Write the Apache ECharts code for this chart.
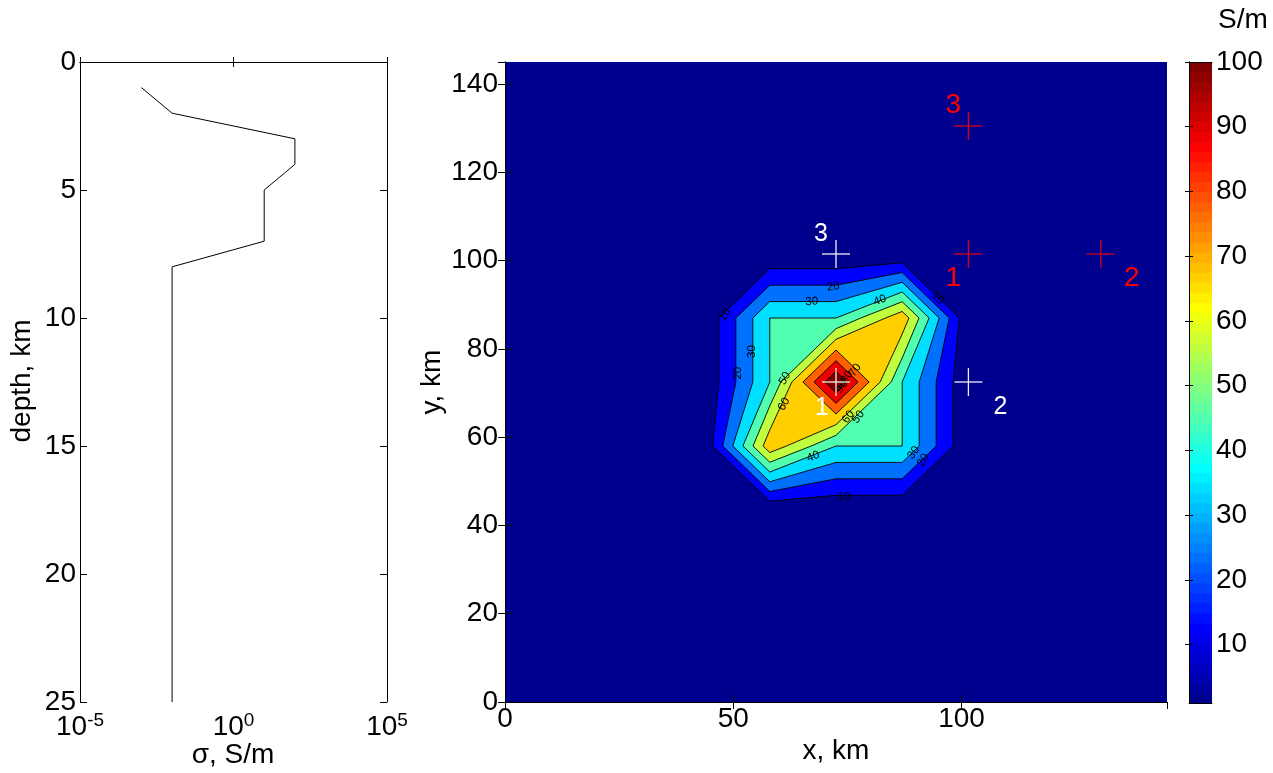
<!DOCTYPE html>
<html>
<head>
<meta charset="utf-8">
<script src="https://cdn.jsdelivr.net/npm/echarts@6/dist/echarts.min.js"></script>
<style>
  html, body { margin: 0; padding: 0; background: #ffffff; }
  #chart { width: 1273px; height: 773px; }
</style>
</head>
<body>
<div id="chart"></div>
<script>
// ---- 1-D layered conductivity profile ----
const profileDepthKm = [1, 2, 3, 4, 5, 7, 8, 25];
const profileSigma   = [1e-3, 1e-2, 1e2, 1e2, 1e1, 1e1, 1e-2, 1e-2];
const sigmaTicks = [1e-5, 1, 1e5];

// ---- plan-view conductivity (S/m) on grid nodes, rows from y = 0 km upward ----
const nodeKm = [0, 14.5, 29, 43.5, 58, 72.5, 87, 101.5, 116, 130.5, 145];
const sigmaRow0  = [1, 1, 1, 1, 1,    1,   1,    1, 1, 1, 1];
const sigmaRow1  = [1, 1, 1, 1, 1,    1,   1,    1, 1, 1, 1];
const sigmaRow2  = [1, 1, 1, 1, 1,    1,   1,    1, 1, 1, 1];
const sigmaRow3  = [1, 1, 1, 1, 1,    1,   1,    1, 1, 1, 1];
const sigmaRow4  = [1, 1, 1, 1, 66.7, 40,  40,   1, 1, 1, 1];
const sigmaRow5  = [1, 1, 1, 1, 40,   100, 40,   1, 1, 1, 1];
const sigmaRow6  = [1, 1, 1, 1, 40,   40,  66.7, 1, 1, 1, 1];
const sigmaRow7  = [1, 1, 1, 1, 1,    1,   1,    1, 1, 1, 1];
const sigmaRow8  = [1, 1, 1, 1, 1,    1,   1,    1, 1, 1, 1];
const sigmaRow9  = [1, 1, 1, 1, 1,    1,   1,    1, 1, 1, 1];
const sigmaRow10 = [1, 1, 1, 1, 1,    1,   1,    1, 1, 1, 1];
const sigmaRows = [sigmaRow0, sigmaRow1, sigmaRow2, sigmaRow3, sigmaRow4, sigmaRow5,
                   sigmaRow6, sigmaRow7, sigmaRow8, sigmaRow9, sigmaRow10];
const contourLevels = [10, 20, 30, 40, 50, 60, 70, 80, 90];

// contour labels: text, position (km) and reading angle (deg, counter-clockwise)
const contourLabelText  = ['20', '30', '40', '10', '10', '30', '20', '50', '60', '70', '80', '90', '60', '50', '40', '30', '20', '10'];
const contourLabelX     = [71.9, 67.2, 82.1, 94.8, 48.2, 54.0, 51.1, 61.3, 61.1, 76.7, 74.9, 73.8, 75.2, 77.4, 67.5, 89.5, 91.6, 74.3];
const contourLabelY     = [94.1, 90.7, 91.0, 91.5, 87.7, 79.4, 74.5, 73.3, 67.5, 75.2, 73.6, 71.4, 64.6, 64.6, 55.6, 56.5, 54.8, 46.5];
const contourLabelAngle = [5, 3, 20, -45, 55, 90, 90, 60, 60, 55, 55, 55, 55, 55, 20, 55, 60, 0];

// receiver sites
const whiteSiteX = [72.5, 101.5, 72.5];
const whiteSiteY = [72.5, 72.5, 101.5];
const whiteSiteName = ['1', '2', '3'];
const redSiteX = [101.5, 130.5, 101.5];
const redSiteY = [101.5, 101.5, 130.5];
const redSiteName = ['1', '2', '3'];

// colour bar
const colorbarMin = 1;
const colorbarMax = 100;
const colorbarTicks = [10, 20, 30, 40, 50, 60, 70, 80, 90, 100];

// ---------------------------------------------------------------
const FONT = "'Liberation Sans', Arial, Helvetica, sans-serif";
const TICK_FS = 28;

// MATLAB-style 64-entry jet colormap, row n = 1..64
function jetRow(n) {
  const r = n <= 24 ? 0 : n <= 40 ? (n - 24) / 16 : n <= 56 ? 1 : 1 - (n - 56) / 16;
  const g = n <= 8 ? 0 : n <= 24 ? (n - 8) / 16 : n <= 40 ? 1 : n <= 56 ? 1 - (n - 40) / 16 : 0;
  const b = n <= 8 ? 0.5 + n / 16 : n <= 24 ? 1 : n <= 40 ? 1 - (n - 24) / 16 : 0;
  return 'rgb(' + Math.round(r * 255) + ',' + Math.round(g * 255) + ',' + Math.round(b * 255) + ')';
}
const bandColors = [];
for (let k = 0; k <= contourLevels.length; k++) {
  bandColors.push(jetRow(1 + Math.round(k * 63 / contourLevels.length)));
}

// marching squares: polygons of {sigma >= L} inside cell (i, j), corners counter-clockwise
function cellPolygons(i, j, L) {
  const xs = [nodeKm[i], nodeKm[i + 1], nodeKm[i + 1], nodeKm[i]];
  const ys = [nodeKm[j], nodeKm[j], nodeKm[j + 1], nodeKm[j + 1]];
  const v = [sigmaRows[j][i], sigmaRows[j][i + 1], sigmaRows[j + 1][i + 1], sigmaRows[j + 1][i]];
  const up = v.map(a => a >= L);
  const nUp = up.filter(Boolean).length;
  if (nUp === 0) return [];
  const corner = c => ({ x: xs[c], y: ys[c], cross: false });
  const cross = (a, b) => {
    const t = (L - v[a]) / (v[b] - v[a]);
    return { x: xs[a] + t * (xs[b] - xs[a]), y: ys[a] + t * (ys[b] - ys[a]), cross: true };
  };
  const saddle = nUp === 2 && up[0] === up[2];
  if (saddle && (v[0] + v[1] + v[2] + v[3]) / 4 < L) {
    return [0, 1, 2, 3].filter(c => up[c]).map(c => {
      const p = (c + 3) % 4, n = (c + 1) % 4;
      return [cross(p, c), corner(c), cross(c, n)];
    });
  }
  const poly = [];
  for (let a = 0; a < 4; a++) {
    const b = (a + 1) % 4;
    if (up[a]) poly.push(corner(a));
    if (up[a] !== up[b]) poly.push(cross(a, b));
  }
  return [poly];
}

function levelGeometry(L, api) {
  let fill = '', line = '';
  const fmt = p => { const q = api.coord([p.x, p.y]); return q[0].toFixed(2) + ' ' + q[1].toFixed(2); };
  for (let j = 0; j < nodeKm.length - 1; j++) {
    for (let i = 0; i < nodeKm.length - 1; i++) {
      const polys = cellPolygons(i, j, L);
      polys.forEach(poly => {
        fill += 'M' + poly.map(fmt).join('L') + 'Z';
        for (let k = 0; k < poly.length; k++) {
          const a = poly[k], b = poly[(k + 1) % poly.length];
          if (a.cross && b.cross) line += 'M' + fmt(a) + 'L' + fmt(b);
        }
      });
    }
  }
  return { fill, line };
}

const bandData = bandColors.map((c, k) => [k, k]);
const lineData = contourLevels.map((L, k) => [k, k]);

function renderBand(params, api) {
  const k = params.dataIndex;
  let d;
  if (k === 0) {
    const n = nodeKm.length - 1;
    const a = api.coord([nodeKm[0], nodeKm[0]]), b = api.coord([nodeKm[n], nodeKm[n]]);
    d = 'M' + a[0] + ' ' + a[1] + 'L' + b[0] + ' ' + a[1] + 'L' + b[0] + ' ' + b[1] + 'L' + a[0] + ' ' + b[1] + 'Z';
  } else {
    d = levelGeometry(contourLevels[k - 1], api).fill;
  }
  if (!d) return null;
  return { type: 'path', shape: { pathData: d }, style: { fill: bandColors[k], stroke: null } };
}

function renderContourLine(params, api) {
  const d = levelGeometry(contourLevels[params.dataIndex], api).line;
  if (!d) return null;
  return { type: 'path', shape: { pathData: d }, style: { fill: null, stroke: '#000', lineWidth: 0.9 } };
}

const labelData = contourLabelText.map((t, k) => [contourLabelX[k], contourLabelY[k]]);
function renderContourLabel(params, api) {
  const k = params.dataIndex;
  const p = api.coord([api.value(0), api.value(1)]);
  return {
    type: 'text', x: p[0], y: p[1], rotation: contourLabelAngle[k] * Math.PI / 180,
    style: { text: contourLabelText[k], fontSize: 11.5, fontFamily: FONT, fill: '#000', align: 'center', verticalAlign: 'middle' }
  };
}

const whiteLabelOffsetPx = [[-14, 26], [32, 25], [-15, -20]];
const redLabelOffsetPx = [[-15, 24], [31, 24], [-15, -21]];
function siteRenderer(names, offsets, crossColor, textColor, fontSize) {
  return function (params, api) {
    const k = params.dataIndex;
    const p = api.coord([api.value(0), api.value(1)]);
    const h = 14;
    return {
      type: 'group',
      children: [
        { type: 'line', shape: { x1: p[0] - h, y1: p[1], x2: p[0] + h, y2: p[1] }, style: { stroke: crossColor, lineWidth: 1.3 } },
        { type: 'line', shape: { x1: p[0], y1: p[1] - h, x2: p[0], y2: p[1] + h }, style: { stroke: crossColor, lineWidth: 1.3 } },
        { type: 'text', x: p[0] + offsets[k][0], y: p[1] + offsets[k][1],
          style: { text: names[k], fontSize: fontSize, fontFamily: FONT, fill: textColor, align: 'center', verticalAlign: 'middle' } }
      ]
    };
  };
}

const colorbarData = [];
for (let k = 0; k < 64; k++) {
  colorbarData.push([colorbarMin + k * (colorbarMax - colorbarMin) / 64, colorbarMin + (k + 1) * (colorbarMax - colorbarMin) / 64]);
}
function renderColorbar(params, api) {
  const p0 = api.coord([0, api.value(0)]);
  const p1 = api.coord([1, api.value(1)]);
  return {
    type: 'rect',
    shape: { x: p0[0], y: p1[1], width: p1[0] - p0[0], height: p0[1] - p1[1] + 0.6 },
    style: { fill: jetRow(params.dataIndex + 1) }
  };
}

// ---------------------------------------------------------------
const axisBlack = { lineStyle: { color: '#000', width: 1 } };
const tickIn = len => ({ show: true, inside: true, length: len, lineStyle: { color: '#000', width: 1 } });
const label = (margin, extra) => Object.assign({ color: '#000', fontSize: TICK_FS, fontFamily: FONT, margin: margin }, extra || {});
const noSplit = { show: false };

const sigmaLabel = {
  customValues: sigmaTicks,
  formatter: v => '{b|10}{s|' + Math.round(Math.log10(v)) + '}',
  rich: {
    b: { fontSize: TICK_FS, fontFamily: FONT, color: '#000', lineHeight: 30, verticalAlign: 'bottom' },
    s: { fontSize: 19, fontFamily: FONT, color: '#000', lineHeight: 14, verticalAlign: 'top' }
  }
};

const option = {
  animation: false,
  backgroundColor: '#ffffff',
  grid: [
    { left: 80, top: 62, width: 307, height: 640, show: false },
    { left: 505, top: 62, width: 662, height: 640, show: false },
    { left: 1189, top: 62, width: 23, height: 641, show: false }
  ],
  xAxis: [
    { type: 'log', gridIndex: 0, min: 1e-5, max: 1e5, position: 'bottom', z: 10,
      axisLine: axisBlack, axisTick: Object.assign(tickIn(5), { customValues: sigmaTicks }),
      axisLabel: label(9, sigmaLabel), splitLine: noSplit },
    { type: 'log', gridIndex: 0, min: 1e-5, max: 1e5, position: 'top', z: 10,
      axisLine: axisBlack, axisTick: Object.assign(tickIn(5), { customValues: sigmaTicks }),
      axisLabel: { show: false }, splitLine: noSplit },
    { type: 'value', gridIndex: 1, min: 0, max: 145, interval: 50, position: 'bottom', z: 10,
      axisLine: axisBlack, axisTick: tickIn(7), axisLabel: label(3, { showMaxLabel: false }), splitLine: noSplit },
    { type: 'value', gridIndex: 1, min: 0, max: 145, interval: 50, position: 'top', z: 10,
      axisLine: axisBlack, axisTick: tickIn(7), axisLabel: { show: false }, splitLine: noSplit },
    { type: 'value', gridIndex: 2, min: 0, max: 1, position: 'bottom', z: 10,
      axisLine: axisBlack, axisTick: { show: false }, axisLabel: { show: false }, splitLine: noSplit },
    { type: 'value', gridIndex: 2, min: 0, max: 1, position: 'top', z: 10,
      axisLine: axisBlack, axisTick: { show: false }, axisLabel: { show: false }, splitLine: noSplit }
  ],
  yAxis: [
    { type: 'value', gridIndex: 0, min: 0, max: 25, interval: 5, inverse: true, position: 'left', z: 10,
      axisLine: axisBlack, axisTick: tickIn(7), axisLabel: label(4), splitLine: noSplit },
    { type: 'value', gridIndex: 0, min: 0, max: 25, interval: 5, inverse: true, position: 'right', z: 10,
      axisLine: axisBlack, axisTick: tickIn(7), axisLabel: { show: false }, splitLine: noSplit },
    { type: 'value', gridIndex: 1, min: 0, max: 145, interval: 20, position: 'left', z: 10,
      axisLine: axisBlack, axisTick: tickIn(7), axisLabel: label(7, { showMaxLabel: false }), splitLine: noSplit },
    { type: 'value', gridIndex: 1, min: 0, max: 145, interval: 20, position: 'right', z: 10,
      axisLine: axisBlack, axisTick: tickIn(7), axisLabel: { show: false }, splitLine: noSplit },
    { type: 'value', gridIndex: 2, min: colorbarMin, max: colorbarMax, position: 'right', z: 10,
      axisLine: axisBlack, axisTick: Object.assign(tickIn(4), { customValues: colorbarTicks }),
      axisLabel: label(4, { customValues: colorbarTicks }), splitLine: noSplit },
    { type: 'value', gridIndex: 2, min: colorbarMin, max: colorbarMax, position: 'left', z: 10,
      axisLine: axisBlack, axisTick: Object.assign(tickIn(4), { customValues: colorbarTicks }),
      axisLabel: { show: false }, splitLine: noSplit }
  ],
  series: [
    { type: 'line', xAxisIndex: 0, yAxisIndex: 0, showSymbol: false, z: 3,
      data: profileSigma.map((s, k) => [s, profileDepthKm[k]]),
      lineStyle: { color: '#000', width: 1 } },
    { type: 'custom', xAxisIndex: 2, yAxisIndex: 2, z: 1, data: bandData, renderItem: renderBand, silent: true },
    { type: 'custom', xAxisIndex: 2, yAxisIndex: 2, z: 2, data: lineData, renderItem: renderContourLine, silent: true },
    { type: 'custom', xAxisIndex: 2, yAxisIndex: 2, z: 3, data: labelData, renderItem: renderContourLabel, silent: true },
    { type: 'custom', xAxisIndex: 2, yAxisIndex: 2, z: 4, silent: true,
      data: whiteSiteX.map((x, k) => [x, whiteSiteY[k]]),
      renderItem: siteRenderer(whiteSiteName, whiteLabelOffsetPx, '#f2f2f2', '#ffffff', 25) },
    { type: 'custom', xAxisIndex: 2, yAxisIndex: 2, z: 4, silent: true,
      data: redSiteX.map((x, k) => [x, redSiteY[k]]),
      renderItem: siteRenderer(redSiteName, redLabelOffsetPx, '#d4001c', '#ff0000', 28) },
    { type: 'custom', xAxisIndex: 4, yAxisIndex: 4, z: 1, data: colorbarData, renderItem: renderColorbar, silent: true }
  ],
  graphic: [
    { type: 'text', x: 22, y: 381, rotation: Math.PI / 2,
      style: { text: 'depth, km', fontSize: TICK_FS, fontFamily: FONT, fill: '#000', align: 'center', verticalAlign: 'middle' } },
    { type: 'text', x: 233, y: 755,
      style: { text: 'σ, S/m', fontSize: TICK_FS, fontFamily: FONT, fill: '#000', align: 'center', verticalAlign: 'middle' } },
    { type: 'text', x: 432, y: 382, rotation: Math.PI / 2,
      style: { text: 'y, km', fontSize: TICK_FS, fontFamily: FONT, fill: '#000', align: 'center', verticalAlign: 'middle' } },
    { type: 'text', x: 836, y: 751,
      style: { text: 'x, km', fontSize: TICK_FS, fontFamily: FONT, fill: '#000', align: 'center', verticalAlign: 'middle' } },
    { type: 'text', x: 1243, y: 20,
      style: { text: 'S/m', fontSize: TICK_FS, fontFamily: FONT, fill: '#000', align: 'center', verticalAlign: 'middle' } }
  ]
};

const chart = echarts.init(document.getElementById('chart'), null, { renderer: 'canvas' });
chart.setOption(option);
</script>
</body>
</html>
